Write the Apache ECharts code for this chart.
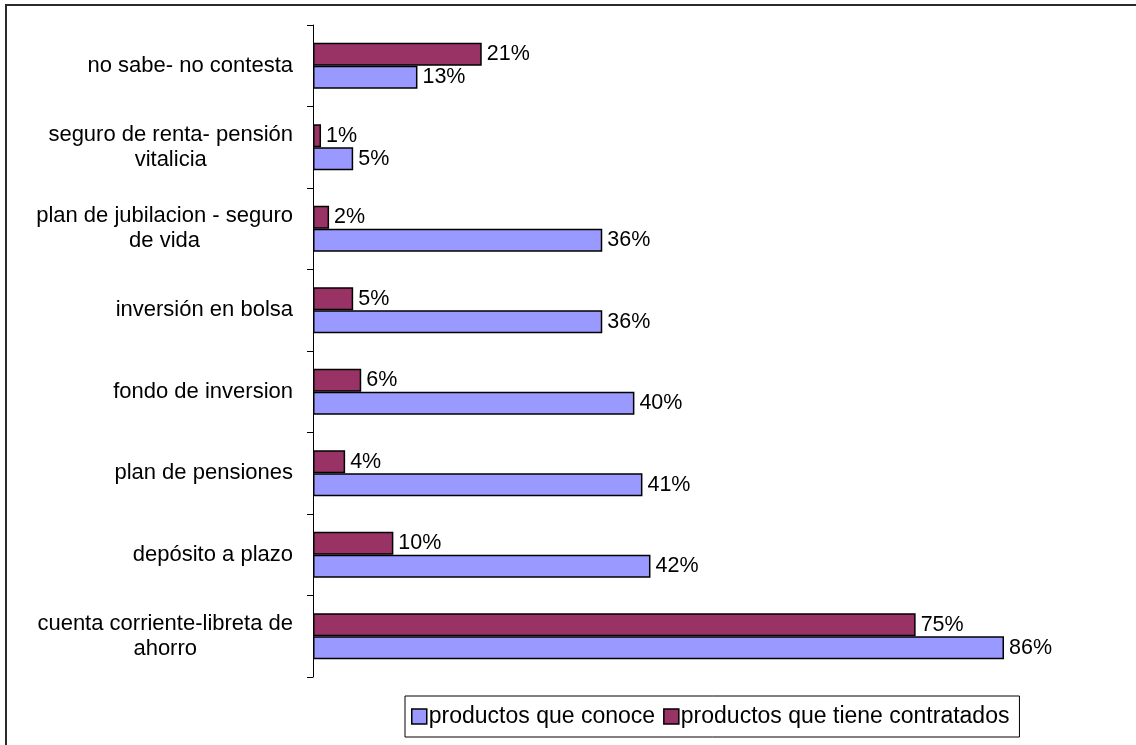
<!DOCTYPE html>
<html>
<head>
<meta charset="utf-8">
<script src="https://cdn.jsdelivr.net/npm/echarts@6/dist/echarts.min.js"></script>
<style>
  html, body { margin: 0; padding: 0; background: #fff; }
  #chart { width: 1136px; height: 745px; }
</style>
</head>
<body>
<div id="chart"></div>
<script>
// Products, listed from the bottom of the axis to the top
const categories = [
  'cuenta corriente-libreta de\nahorro',
  'depósito a plazo',
  'plan de pensiones',
  'fondo de inversion',
  'inversión en bolsa',
  'plan de jubilacion - seguro\nde vida',
  'seguro de renta- pensión\nvitalicia',
  'no sabe- no contesta'
];
const seriesNames = ['productos que conoce', 'productos que tiene contratados'];
const conoce = [86, 42, 41, 40, 36, 36, 5, 13];
const contratados = [75, 10, 4, 6, 5, 2, 1, 21];

const FONT = '"Liberation Sans", Arial, sans-serif';

const chart = echarts.init(document.getElementById('chart'), null, { renderer: 'canvas' });

const valueLabel = {
  show: true,
  position: 'right',
  distance: 5,
  color: '#000',
  fontFamily: FONT,
  fontSize: 21.5,
  formatter: p => p.value + '%'
};

chart.setOption({
  backgroundColor: '#fff',
  animation: false,
  graphic: [{
    type: 'rect',
    shape: { x: 6, y: 5, width: 1400, height: 1000 },
    style: { fill: 'none', stroke: '#2a2a2a', lineWidth: 2 },
    silent: true
  }],
  grid: { left: 313, right: 19.5, top: 25, bottom: 68, containLabel: false },
  legend: {
    data: seriesNames,
    left: 405,
    top: 696,
    orient: 'horizontal',
    borderColor: '#000',
    borderWidth: 1,
    padding: [9, 10, 9, 6],
    itemGap: 8,
    itemWidth: 15,
    itemHeight: 15,
    icon: 'rect',
    itemStyle: { borderColor: '#000', borderWidth: 1.5 },
    textStyle: { fontFamily: FONT, fontSize: 23, color: '#000', padding: [0, 0, 0, -3] }
  },
  xAxis: {
    type: 'value',
    min: 0,
    max: 100,
    show: false
  },
  yAxis: {
    type: 'category',
    data: categories,
    axisLine: { show: true, lineStyle: { color: '#000', width: 1 } },
    axisTick: { show: true, inside: false, length: 6, lineStyle: { color: '#000' } },
    axisLabel: {
      margin: 20,
      color: '#000',
      fontFamily: FONT,
      fontSize: 22,
      align: 'right',
      formatter: v => v.split('\n').map(s => '{c|' + s + '}').join('\n'),
      rich: {
        c: { align: 'center', fontFamily: FONT, fontSize: 22, color: '#000', lineHeight: 25 }
      }
    },
    splitLine: { show: false }
  },
  series: [
    {
      name: seriesNames[1],
      type: 'bar',
      data: contratados,
      barWidth: 23,
      barGap: '0%',
      itemStyle: { color: '#993366', borderColor: '#000', borderWidth: 1.5 },
      label: valueLabel
    },
    {
      name: seriesNames[0],
      type: 'bar',
      data: conoce,
      barWidth: 23,
      barGap: '0%',
      itemStyle: { color: '#9999ff', borderColor: '#000', borderWidth: 1.5 },
      label: valueLabel
    }
  ]
});
</script>
</body>
</html>
